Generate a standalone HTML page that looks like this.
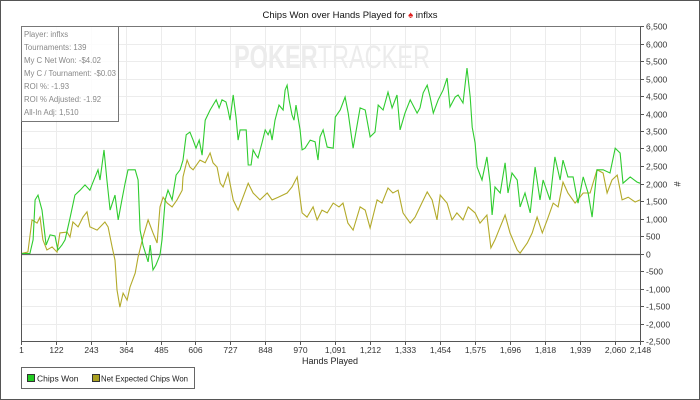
<!DOCTYPE html>
<html><head><meta charset="utf-8"><style>
html,body{margin:0;padding:0;background:#fff;}
svg{display:block;font-family:"Liberation Sans",Arial,sans-serif;}
</style></head><body>
<svg id="chart" width="700" height="400" viewBox="0 0 700 400">
<rect x="0.5" y="0.5" width="699" height="399" fill="#fff" stroke="#555"/>
<text x="350" y="18" font-size="9.5" text-anchor="middle" fill="#111">Chips Won over Hands Played for <tspan fill="#e02020">♠</tspan> inflxs</text>
<g id="grid"></g>
<text x="234" y="68" font-size="32" fill="#ececec" textLength="196" lengthAdjust="spacingAndGlyphs"><tspan font-weight="bold">POKER</tspan>TRACKER</text>
<g id="series"></g>
<g id="axes"></g>
<g>
<rect x="21.5" y="26.5" width="97" height="95" fill="#fff" fill-opacity="0.85" stroke="#777"/>
<g font-size="7.8" fill="#888">
<text x="24" y="37">Player: inflxs</text>
<text x="24" y="50">Tournaments: 139</text>
<text x="24" y="63">My C Net Won: -$4.02</text>
<text x="24" y="76" textLength="92" lengthAdjust="spacingAndGlyphs">My C / Tournament: -$0.03</text>
<text x="24" y="89">ROI %: -1.93</text>
<text x="24" y="102">ROI % Adjusted: -1.92</text>
<text x="24" y="115">All-In Adj: 1,510</text>
</g></g>
<text x="330" y="364" font-size="9" text-anchor="middle" fill="#222">Hands Played</text>
<text x="677" y="187" font-size="9" text-anchor="middle" fill="#222" transform="rotate(90 677 184)">#</text>
<g>
<rect x="21.5" y="367.5" width="173" height="21" fill="#fff" stroke="#666"/>
<g><rect x="27.5" y="374.5" width="7" height="7" fill="#22cc22" stroke="#333"/><text x="37" y="381.5" font-size="8.5" fill="#222">Chips Won</text></g>
<g><rect x="92.5" y="374.5" width="7" height="7" fill="#aaa020" stroke="#333"/><text x="101" y="381.5" font-size="8.5" fill="#222" textLength="87" lengthAdjust="spacingAndGlyphs">Net Expected Chips Won</text></g>
</g>
</svg>
<script>
const xTicks=[1,122,243,364,485,606,727,848,970,1091,1212,1333,1454,1575,1696,1818,1939,2060,2148];
const yTicks=[-2500,-2000,-1500,-1000,-500,0,500,1000,1500,2000,2500,3000,3500,4000,4500,5000,5500,6000,6500];
const wonHands=[1,32,43,50,60,74,88,102,119,129,143,154,171,188,206,223,240,247,268,275,289,299,310,327,338,351,362,372,386,397,407,414,424,442,449,459,469,483,490,501,511,525,539,553,563,574,587,598,608,619,629,640,657,667,678,688,698,712,719,726,737,747,754,761,782,789,799,806,816,823,837,848,858,865,872,882,896,910,917,924,931,941,948,955,969,976,986,1004,1021,1031,1038,1049,1063,1084,1091,1108,1125,1136,1153,1177,1195,1212,1229,1240,1257,1274,1288,1305,1316,1333,1351,1375,1385,1396,1410,1420,1431,1448,1465,1479,1489,1507,1517,1534,1548,1559,1566,1576,1583,1600,1617,1628,1635,1645,1663,1680,1690,1704,1722,1732,1749,1767,1784,1801,1812,1836,1853,1871,1881,1898,1916,1933,1951,1968,1982,1999,2020,2044,2062,2079,2089,2114,2138,2148];
const wonValues=[0,0,390,1530,1670,1240,240,530,500,100,240,390,1010,1670,1810,1960,1810,1960,2390,2100,2960,2100,1240,1670,960,1530,2010,2390,2390,2390,2100,670,240,-240,240,-470,-330,-40,390,1530,1810,1530,2240,2390,2670,3390,3470,3240,3010,3240,2810,3810,4100,4240,4390,4160,4390,4330,4100,3810,4530,3870,3240,3530,3530,2530,2530,2960,2810,2730,3160,3530,3390,3530,3240,3810,4240,4100,4670,4810,4390,3960,3810,4240,3530,2960,3010,3240,3190,2670,3330,3530,3040,3010,3900,4100,4470,4010,3010,4160,4100,3330,3470,4240,4100,4610,4160,4530,3530,4010,4390,4010,4160,4590,4810,4470,4010,4390,4670,5010,4190,4470,4530,4300,5300,4470,3610,3160,2470,2100,2760,2010,1100,1900,1730,2590,1730,2300,2100,1330,1730,1160,2470,1530,2100,1530,2760,2100,2670,2190,2190,1440,2190,1730,1040,2390,2390,2300,3010,2870,2010,2190,2040,2010];
const expHands=[1,25,39,57,67,77,91,109,126,136,161,171,181,199,216,230,240,265,292,303,317,327,334,344,355,369,379,397,407,424,442,459,473,483,494,508,525,542,560,563,577,587,598,622,640,657,667,681,692,702,719,737,754,771,789,806,830,855,872,893,924,941,959,976,993,1014,1028,1045,1063,1084,1104,1118,1135,1153,1177,1195,1212,1236,1253,1274,1291,1309,1326,1351,1368,1385,1410,1427,1444,1455,1479,1496,1513,1534,1552,1576,1593,1617,1631,1645,1663,1680,1697,1722,1732,1757,1774,1791,1809,1826,1847,1864,1881,1898,1923,1951,1975,1999,2020,2034,2051,2069,2086,2107,2131,2148];
const expValues=[0,40,960,870,1040,390,100,190,40,590,610,470,900,760,1040,1190,760,670,900,760,190,-190,-1040,-1530,-1130,-1330,-960,-560,-100,470,960,590,300,1330,1610,1440,1330,1530,1810,2190,2670,2470,2390,2670,2590,2870,2590,2470,2010,1900,2300,1530,1240,1610,2010,1730,1530,1730,1530,1610,1730,1900,2190,1160,1040,1330,960,1240,1160,1440,1330,1440,870,670,1330,1240,730,1530,1440,1870,1730,1810,1160,870,1040,1330,1760,1530,960,1670,1440,960,1160,960,1330,1160,870,1100,160,390,760,1100,590,100,10,300,590,1040,590,960,1440,1330,2040,1730,1440,1730,1730,2390,2300,1730,2100,2240,1530,1610,1470,1530];

const L=21,R=640,T=26,B=341,XMIN=1,XMAX=2148,YMIN=-2500,YMAX=6500;
function xs(v){return L+(v-XMIN)/(XMAX-XMIN)*(R-L);}
function ys(v){return B-(v-YMIN)/(YMAX-YMIN)*(B-T);}
const NS='http://www.w3.org/2000/svg';
function mk(tag,attrs,parent){const e=document.createElementNS(NS,tag);for(const k in attrs)e.setAttribute(k,attrs[k]);parent.appendChild(e);return e;}
const gridG=document.getElementById('grid'),axesG=document.getElementById('axes'),seriesG=document.getElementById('series');
xTicks.forEach(t=>{const x=Math.round(xs(t))+0.5;
 const g=mk('line',{x1:x,x2:x,y1:T,y2:B,stroke:'#ececec'},gridG);
 
 
 const tk=mk('line',{x1:x,x2:x,y1:B,y2:B+4,stroke:'#555'},axesG);
 
 
 const lb=mk('text',{x:x,y:B+12,'font-size':8.5,'text-anchor':'middle',fill:'#333'},axesG);
 lb.textContent=t.toLocaleString('en-US');
 
 
});
yTicks.forEach(t=>{const y=Math.round(ys(t))+0.5;
 const g=mk('line',{x1:L,x2:R,y1:y,y2:y,stroke:t===0?'#666':'#ececec','stroke-width':t===0?1.3:1},gridG);
 
 
 const tk=mk('line',{x1:R,x2:R+4,y1:y,y2:y,stroke:'#555'},axesG);
 
 
 const lb=mk('text',{x:R+6,y:y+3,'font-size':8.5,fill:'#333'},axesG);
 lb.textContent=t.toLocaleString('en-US');
 
 
});
const topBorder=mk('line',{x1:L,x2:R,y1:T+0.5,y2:T+0.5,stroke:'#777'},axesG);


const leftAxis=mk('line',{x1:L+0.5,x2:L+0.5,y1:T,y2:B,stroke:'#555'},axesG);


const rightAxis=mk('line',{x1:R+0.5,x2:R+0.5,y1:T,y2:B,stroke:'#555'},axesG);


const bottomAxis=mk('line',{x1:L,x2:R+1,y1:B+0.5,y2:B+0.5,stroke:'#555'},axesG);


function linePath(h,v){return h.map((d,i)=>(i?'L':'M')+xs(d).toFixed(1)+' '+ys(v[i]).toFixed(1)).join(' ');}
const expLine=mk('path',{d:linePath(expHands,expValues),fill:'none',stroke:'#b3aa2a','stroke-width':1.1},seriesG);


const wonLine=mk('path',{d:linePath(wonHands,wonValues),fill:'none',stroke:'#2fcc2f','stroke-width':1.1},seriesG);


</script>
</body></html>
